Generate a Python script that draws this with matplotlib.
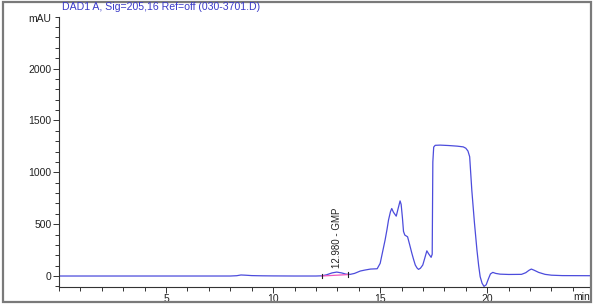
import numpy as np
import matplotlib.pyplot as plt
from matplotlib.patches import Rectangle
from matplotlib.ticker import MultipleLocator

plt.rcParams['font.family'] = ['Liberation Sans', 'DejaVu Sans']

# DAD1 A trace (time in min, signal in mAU)
time = [0.0, 8.0, 8.3, 8.5, 8.7, 9.0, 9.5, 10.0, 11.0, 12.0, 12.27, 12.5, 12.75,
        12.97, 13.2, 13.4, 13.6, 13.8, 14.07, 14.3, 14.55, 14.86, 15.0, 15.1,
        15.23, 15.32, 15.39, 15.48, 15.54, 15.62, 15.75, 15.85, 15.93, 15.98,
        16.04, 16.09, 16.15, 16.28, 16.38, 16.48, 16.56, 16.64, 16.72, 16.79,
        16.88, 16.99, 17.08, 17.18, 17.26, 17.38, 17.43, 17.46, 17.5, 17.57,
        17.8, 18.2, 18.6, 18.88, 19.0, 19.1, 19.18, 19.28, 19.4, 19.52, 19.6,
        19.67, 19.76, 19.85, 19.95, 20.05, 20.15, 20.26, 20.4, 20.6, 21.0, 21.6,
        21.8, 21.95, 22.06, 22.2, 22.4, 22.7, 23.0, 23.5, 24.8]
signal = [0, 0, 3, 10, 8, 4, 2, 1, 0, 0, 2, 12, 30,
          38, 30, 18, 16, 25, 48, 58, 67, 70, 122, 220,
          347, 450, 540, 620, 651, 615, 577, 660, 724, 690,
          560, 430, 395, 378, 300, 219, 160, 106, 78, 64,
          75, 106, 170, 243, 215, 180, 210, 1100, 1243, 1260,
          1262, 1258, 1252, 1245, 1232, 1205, 1150, 827, 520, 250, 100,
          -6, -70, -100, -85, -30, 20, 35, 25, 18, 15, 16,
          32, 55, 67, 55, 35, 16, 8, 4, 3]

# GMP peak: integration limits, baseline and label
peak_start, peak_end = 12.27, 13.52
base_start, base_end = 0, 14
peak_rt = 12.98
peak_label = "12.980 - GMP"

title = "DAD1 A, Sig=205,16 Ref=off (030-3701.D)"

W, H = 596, 304
fig = plt.figure(figsize=(W / 100, H / 100), dpi=100)
ax = fig.add_axes([59 / W, 1 - 286.7 / H, (590 - 59) / W, (286.7 - 16.7) / H])

line_col = '#4c4cdc'
ax.plot(time, signal, color=line_col, lw=0.9)
ax.plot([peak_start, peak_end], [base_start, base_end], color='#ee55bb', lw=0.9)
for t, b in [(peak_start, base_start), (peak_end, base_end)]:
    ax.plot([t, t], [b - 22, b + 22], color='#222222', lw=0.8)
ax.text(peak_rt, 75, peak_label, rotation=90, ha='center', va='bottom',
        fontsize=7, color='#222222')

ax.set_xlim(0, 24.8)
ax.set_ylim(-103, 2500)
ax.set_xticks([5, 10, 15, 20])
ax.xaxis.set_minor_locator(MultipleLocator(1))
ax.set_yticks([0, 500, 1000, 1500, 2000])
ax.yaxis.set_minor_locator(MultipleLocator(100))

for s in ['top', 'right']:
    ax.spines[s].set_visible(False)
for s in ['left', 'bottom']:
    ax.spines[s].set_color('#333333')
    ax.spines[s].set_linewidth(0.8)
ax.tick_params(which='both', direction='out', colors='#333333', labelsize=7.5,
               labelcolor='#222222', width=0.7)
ax.tick_params(which='major', length=4, pad=1.5)
ax.tick_params(which='minor', length=3)

fig.text(62 / W, 1 - 7 / H, title, ha='left', va='center', fontsize=7.6,
         color='#3a3ac8')
fig.text(51 / W, 1 - 19 / H, "mAU", ha='right', va='center', fontsize=7.5,
         color='#222222')
fig.text(590 / W, 1 - 297 / H, "min", ha='right', va='center', fontsize=7.5,
         color='#222222')

fig.patches.append(Rectangle((2.5 / W, 2.5 / H), (591 - 2.5) / W, (302 - 2.5) / H,
                             transform=fig.transFigure, fill=False,
                             edgecolor='#7a7a7a', lw=1.6))

fig.savefig('out.png', dpi=100)
